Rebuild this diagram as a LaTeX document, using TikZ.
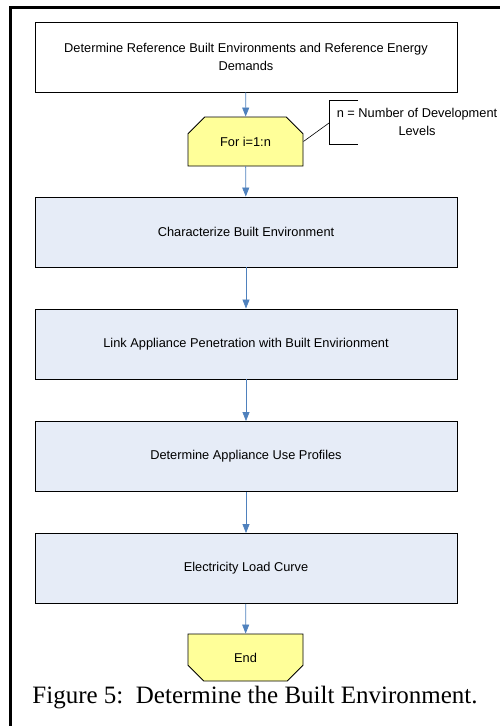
\documentclass[tikz,border=0pt]{standalone}
\usepackage{fontspec}
\setmainfont{Liberation Serif}
\setsansfont{Liberation Sans}
\usepackage{tikz}
\usetikzlibrary{
	arrows.meta, shapes.misc, positioning, calc
}
\definecolor{flowblue}   {RGB}{79,  129, 189}
\definecolor{stepfill}   {RGB}{230, 236, 247}
\definecolor{loopyellow} {RGB}{255, 255, 153}

\begin{document}
\begin{tikzpicture}[x=1pt,y=-1pt,
	every node/.style={font=\sffamily\fontsize{12.8}{18}\selectfont},
	stepbox/.style={draw=black,line width=0.9pt,fill=stepfill,minimum width=422pt,minimum height=70pt,inner sep=0pt,align=center},
	loopbox/.style={chamfered rectangle,draw=black,line width=0.9pt,fill=loopyellow,minimum width=115pt,inner sep=0pt,chamfered rectangle xsep=10pt},
	flow/.style={draw=flowblue,line width=0.8pt,-{Triangle[length=9pt,width=7pt]}}
]
	\useasboundingbox (0,0) rectangle (500,726);
	\draw[line width=3pt] (10,726) -- (10,7) -- (500,7);
	% steps
	\node[stepbox,fill=white] (refs) at (246,57) {Determine Reference Built Environments and Reference Energy\\Demands};
	\node[loopbox,minimum height=49pt,chamfered rectangle ysep=12pt,chamfered rectangle corners={north west,north east}] (loop) at (245.5,141.5) {For i=1:n};
	\node[stepbox] (charact) at (246,232) {Characterize Built Environment};
	\node[stepbox] (link) at (246,344) {Link Appliance Penetration with Built Envirionment};
	\node[stepbox] (profiles) at (246,456.5) {Determine Appliance Use Profiles};
	\node[stepbox] (curve) at (246,568.5) {Electricity Load Curve};
	\node[loopbox,minimum height=47pt,chamfered rectangle ysep=11pt,chamfered rectangle corners={south west,south east}] (end) at (245.5,657.5) {End};
	\draw[flow] (refs) -- (loop);
	\draw[flow] (loop) -- (charact);
	\draw[flow] (charact) -- (link);
	\draw[flow] (link) -- (profiles);
	\draw[flow] (profiles) -- (curve);
	\draw[flow] (curve) -- (end);
	% note on n
	\draw[line width=0.6pt] (358,100) -- (329,100) -- (329,144) -- (358,144);
	\coordinate (bracket) at (329,123);
	\node[align=center] (note) at (417,122) {n = Number of Development\\Levels};
	\draw[line width=0.6pt] (loop.east) -- (bracket);
	\node[font=\rmfamily\fontsize{25}{30}\selectfont] (caption) at (255,698) {Figure 5:\ \ Determine the Built Environment.};
\end{tikzpicture}
\end{document}
